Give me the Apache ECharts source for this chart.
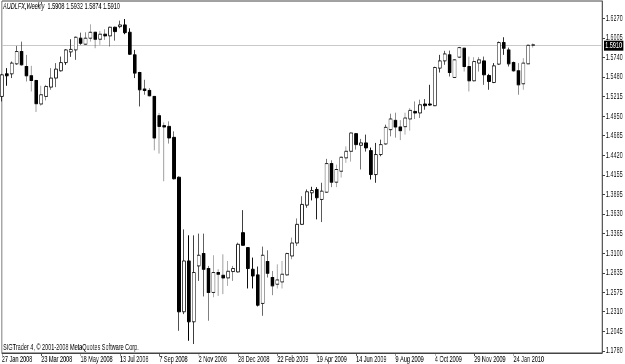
<!DOCTYPE html>
<html>
<head>
<meta charset="utf-8">
<script src="https://cdn.jsdelivr.net/npm/echarts@6/dist/echarts.min.js"></script>
<style>
html,body{margin:0;padding:0;background:#fff;overflow:hidden;}
#wrap{width:625px;height:364px;overflow:hidden;position:relative;}
#c{width:1016px;height:364px;transform:scaleX(0.615);transform-origin:0 0;}
</style>
</head>
<body>
<div id="wrap"><div id="c"></div></div>
<script>
const symbolName = 'AUDLFX';
const timeframe = 'Weekly';
const footerText = 'SIGTrader 4, © 2001-2008 MetaQuotes Software Corp.';

const dates = [
'27 Jan 2008','3 Feb 2008','10 Feb 2008','17 Feb 2008','24 Feb 2008','2 Mar 2008','9 Mar 2008','16 Mar 2008','23 Mar 2008','30 Mar 2008',
'6 Apr 2008','13 Apr 2008','20 Apr 2008','27 Apr 2008','4 May 2008','11 May 2008','18 May 2008','25 May 2008','1 Jun 2008','8 Jun 2008',
'15 Jun 2008','22 Jun 2008','29 Jun 2008','6 Jul 2008','13 Jul 2008','20 Jul 2008','27 Jul 2008','3 Aug 2008','10 Aug 2008','17 Aug 2008',
'24 Aug 2008','31 Aug 2008','7 Sep 2008','14 Sep 2008','21 Sep 2008','28 Sep 2008','5 Oct 2008','12 Oct 2008','19 Oct 2008','26 Oct 2008',
'2 Nov 2008','9 Nov 2008','16 Nov 2008','23 Nov 2008','30 Nov 2008','7 Dec 2008','14 Dec 2008','21 Dec 2008','28 Dec 2008','4 Jan 2009',
'11 Jan 2009','18 Jan 2009','25 Jan 2009','1 Feb 2009','8 Feb 2009','15 Feb 2009','22 Feb 2009','1 Mar 2009','8 Mar 2009','15 Mar 2009',
'22 Mar 2009','29 Mar 2009','5 Apr 2009','12 Apr 2009','19 Apr 2009','26 Apr 2009','3 May 2009','10 May 2009','17 May 2009','24 May 2009',
'31 May 2009','7 Jun 2009','14 Jun 2009','21 Jun 2009','28 Jun 2009','5 Jul 2009','12 Jul 2009','19 Jul 2009','26 Jul 2009','2 Aug 2009',
'9 Aug 2009','16 Aug 2009','23 Aug 2009','30 Aug 2009','6 Sep 2009','13 Sep 2009','20 Sep 2009','27 Sep 2009','4 Oct 2009','11 Oct 2009',
'18 Oct 2009','25 Oct 2009','1 Nov 2009','8 Nov 2009','15 Nov 2009','22 Nov 2009','29 Nov 2009','6 Dec 2009','13 Dec 2009','20 Dec 2009',
'27 Dec 2009','3 Jan 2010','10 Jan 2010','17 Jan 2010','24 Jan 2010','31 Jan 2010','7 Feb 2010','14 Feb 2010','21 Feb 2010'
];
// empty slots to the right of the last bar (chart shift)
const futureSlots = ['','','','','','','','','','','','','',''];

const openVals = [
1.5215,1.5520,1.5520,1.5655,1.5821,1.5619,1.5494,1.5430,1.5113,1.5215,
1.5341,1.5463,1.5561,1.5672,1.5816,1.5843,1.6001,1.5920,1.6001,1.6081,
1.5987,1.6055,1.6032,1.6149,1.6157,1.6180,1.6081,1.5776,1.5538,1.5315,
1.5296,1.5215,1.4955,1.4821,1.4811,1.4663,1.4125,1.2309,1.2995,1.2174,
1.2928,1.3095,1.2893,1.2570,1.2839,1.2802,1.2766,1.2852,1.2847,1.3377,
1.3175,1.2883,1.2807,1.2422,1.2987,1.2772,1.2681,1.2712,1.2807,1.3062,
1.3237,1.3489,1.3748,1.3915,1.3960,1.3825,1.3923,1.4309,1.4058,1.4206,
1.4386,1.4475,1.4713,1.4556,1.4588,1.4484,1.4161,1.4431,1.4574,1.4767,
1.4892,1.4803,1.4807,1.4911,1.5013,1.4992,1.5113,1.5113,1.5090,1.5597,
1.5695,1.5776,1.5471,1.5745,1.5866,1.5619,1.5426,1.5665,1.5695,1.5498,
1.5403,1.5651,1.5942,1.5843,1.5672,1.5561,1.5386,1.5655,1.5908
];
const highVals = [
1.5520,1.5597,1.5686,1.5897,1.5955,1.5776,1.5628,1.5440,1.5359,1.5372,
1.5597,1.5665,1.5753,1.5853,1.5987,1.6022,1.6076,1.6081,1.6189,1.6090,
1.6099,1.6122,1.6157,1.6157,1.6238,1.6260,1.6135,1.5843,1.5547,1.5440,
1.5328,1.5224,1.4992,1.4865,1.4879,1.4744,1.4135,1.3421,1.3341,1.3341,
1.3364,1.3364,1.2928,1.3072,1.2883,1.3085,1.2995,1.2928,1.3242,1.3681,
1.3180,1.3041,1.2920,1.3189,1.3139,1.2860,1.2950,1.2995,1.3108,1.3310,
1.3569,1.3869,1.3960,1.3996,1.3991,1.4050,1.4373,1.4354,1.4296,1.4408,
1.4542,1.4731,1.4722,1.4642,1.4700,1.4525,1.4588,1.4632,1.4834,1.4982,
1.4996,1.4895,1.4996,1.5059,1.5148,1.5171,1.5180,1.5372,1.5615,1.5776,
1.5830,1.5834,1.5718,1.5884,1.5874,1.5753,1.5745,1.5745,1.5753,1.5520,
1.5665,1.5955,1.6014,1.5874,1.5686,1.5665,1.5732,1.5922,1.5932
];
const lowVals = [
1.5148,1.5359,1.5463,1.5642,1.5632,1.5417,1.5282,1.5005,1.5090,1.5161,
1.5305,1.5341,1.5551,1.5642,1.5749,1.5709,1.5911,1.5911,1.5955,1.5866,
1.5911,1.5978,1.5888,1.5968,1.6135,1.6055,1.5776,1.5463,1.5080,1.5238,
1.5215,1.4488,1.4444,1.4071,1.4579,1.4094,1.2053,1.2278,1.1918,1.1874,
1.2726,1.2516,1.2188,1.2506,1.2524,1.2547,1.2659,1.2726,1.2839,1.3206,
1.2624,1.2624,1.2381,1.2255,1.2772,1.2533,1.2624,1.2624,1.2793,1.3018,
1.3197,1.3480,1.3713,1.3812,1.3556,1.3520,1.3915,1.3991,1.3991,1.4121,
1.4319,1.4336,1.4498,1.4229,1.4471,1.4094,1.4050,1.4408,1.4565,1.4677,
1.4659,1.4626,1.4700,1.4753,1.4911,1.4924,1.5036,1.5090,1.5085,1.5538,
1.5642,1.5484,1.5463,1.5732,1.5551,1.5282,1.5417,1.5551,1.5372,1.5305,
1.5395,1.5642,1.5776,1.5619,1.5551,1.5238,1.5305,1.5651,1.5874
];
const closeVals = [
1.5507,1.5494,1.5665,1.5821,1.5642,1.5494,1.5430,1.5117,1.5238,1.5350,
1.5463,1.5584,1.5672,1.5843,1.5850,1.6014,1.5933,1.6001,1.6081,1.5987,
1.6055,1.6032,1.6149,1.6090,1.6180,1.6076,1.5785,1.5530,1.5305,1.5296,
1.5224,1.4655,1.4811,1.4803,1.4655,1.4104,1.2309,1.2995,1.2174,1.2839,
1.3072,1.2883,1.2570,1.2839,1.2816,1.2766,1.2856,1.2893,1.3220,1.3206,
1.2893,1.2793,1.2399,1.3072,1.2829,1.2659,1.2739,1.2816,1.3095,1.3237,
1.3489,1.3758,1.3929,1.3946,1.3848,1.3937,1.4309,1.4058,1.4229,1.4394,
1.4475,1.4722,1.4565,1.4588,1.4521,1.4161,1.4431,1.4565,1.4798,1.4911,
1.4803,1.4753,1.4924,1.5027,1.4992,1.5103,1.5090,1.5099,1.5605,1.5695,
1.5789,1.5538,1.5709,1.5874,1.5619,1.5426,1.5686,1.5709,1.5507,1.5417,
1.5628,1.5942,1.5866,1.5655,1.5561,1.5372,1.5665,1.5905,1.5910
];

const priceTicks = [1.1780,1.2045,1.2310,1.2575,1.2835,1.3100,1.3365,1.3630,1.3895,1.4155,1.4420,1.4685,1.4950,1.5215,1.5480,1.5740,1.6005,1.6270];
const priceMin = 1.1753;
const priceMax = 1.6503;

const last = closeVals.length - 1;
const bidPrice = closeVals[last];

const categories = dates.concat(futureSlots);
const candleData = openVals.map((o, i) => [o, closeVals[i], lowVals[i], highVals[i]]);

const FONT = 'Tahoma, "Liberation Sans", Arial, sans-serif';
const showTick = (idx) => idx % 8 === 0 && idx < dates.length;

const chart = echarts.init(document.getElementById('c'), null, {renderer: 'canvas'});
chart.setOption({
  animation: false,
  backgroundColor: '#ffffff',
  grid: {left: 3, right: 37, top: 1, bottom: 10, show: true, borderColor: '#444', borderWidth: 1, backgroundColor: '#fff'},
  xAxis: {
    type: 'category',
    data: categories,
    boundaryGap: false,
    axisLine: {show: true, lineStyle: {color: '#444', width: 1}},
    axisTick: {show: true, length: 3, lineStyle: {color: '#444'}, interval: showTick},
    axisLabel: {show: true, fontSize: 9, fontFamily: FONT, color: '#000', align: 'left', margin: 2,
      interval: 7, hideOverlap: false, showMaxLabel: false, showMinLabel: true},
    splitLine: {show: false}
  },
  yAxis: {
    type: 'value',
    position: 'right',
    min: priceMin,
    max: priceMax,
    axisLine: {show: true, lineStyle: {color: '#444', width: 1}},
    axisTick: {show: true, length: 5, lineStyle: {color: '#444'}, customValues: priceTicks},
    axisLabel: {show: true, fontSize: 9, fontFamily: FONT, color: '#000', margin: 6,
      customValues: priceTicks, formatter: v => v.toFixed(4)},
    splitLine: {show: false}
  },
  series: [{
    type: 'candlestick',
    data: candleData,
    barWidth: 5,
    clip: true,
    itemStyle: {color: '#ffffff', color0: '#000000', borderColor: '#222', borderColor0: '#000', borderWidth: 1},
    markLine: {
      silent: true,
      symbol: ['none', 'none'],
      lineStyle: {color: '#c8c8c8', type: 'solid', width: 1},
      label: {show: true, position: 'end', distance: 3, formatter: () => bidPrice.toFixed(4),
        backgroundColor: '#000', color: '#fff', fontSize: 9, fontFamily: FONT, padding: [1, 2, 0, 2]},
      data: [{yAxis: bidPrice}],
      z: 1
    }
  }],
  graphic: [
    {type: 'text', left: 5, top: 2, z: 100, style: {
      text: '{it|' + symbolName + ',' + timeframe + '}  ' + [openVals[last], highVals[last], lowVals[last], closeVals[last]].map(v => v.toFixed(4)).join(' '),
      rich: {it: {fontStyle: 'italic', fontSize: 9, fontFamily: FONT, fill: '#000'}},
      fontSize: 9, fontFamily: FONT, fill: '#000'}},
    {type: 'text', left: 5, top: 343, z: 100, style: {
      text: footerText, fontSize: 9, fontFamily: FONT, fill: '#000'}}
  ]
});
</script>
</body>
</html>
